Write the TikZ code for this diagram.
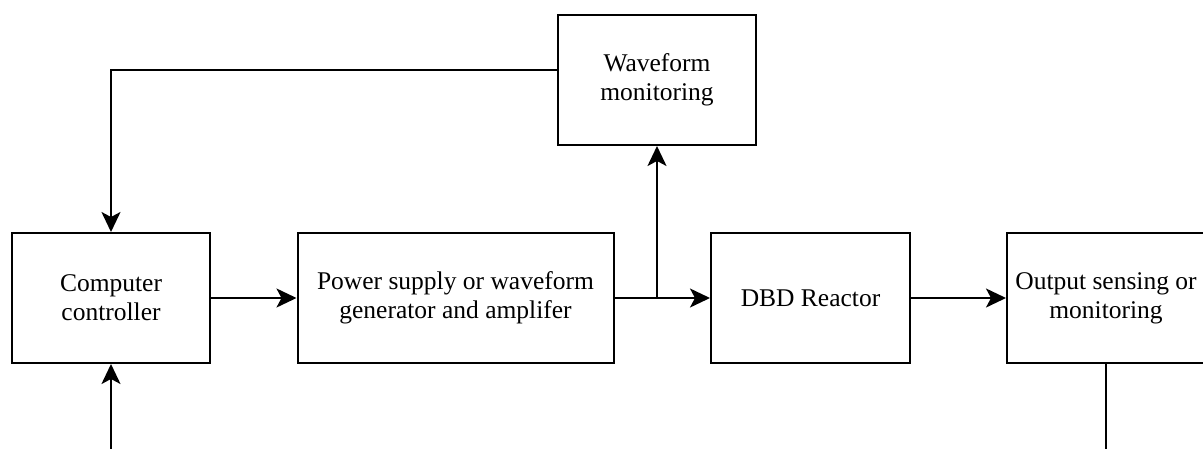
\documentclass[tikz,border=0pt]{standalone}
\usepackage{fontspec}
\setmainfont{Liberation Serif}
\newfontfamily\tnrfont{Liberation Serif}
\usetikzlibrary{arrows.meta}
\begin{document}
\begin{tikzpicture}[x=1pt,y=-1pt,
  blk/.style={draw,line width=2pt,minimum height=130pt,inner sep=2pt,align=center,font=\tnrfont\fontsize{25.5}{29}\selectfont},
  arr/.style={line width=2pt,-{Stealth[length=20pt,width=19pt,inset=5pt]}},
  ln/.style={line width=2pt}]
\useasboundingbox (0,0) rectangle (1203,448);
\clip (0,0) rectangle (1203,448);
\node[blk,minimum width=198pt] (comp) at (111,298) {Computer\\controller};
\node[blk,minimum width=316pt] (pow) at (455.5,298) {Power supply or waveform\\generator and amplifer};
\node[blk,minimum width=199pt] (dbd) at (810.5,298) {DBD Reactor};
\node[blk,minimum width=198pt] (out) at (1106,298) {Output sensing or\\monitoring};
\node[blk,minimum width=198pt] (wave) at (657,80) {Waveform\\monitoring};
\coordinate (br) at (657,298);
\coordinate (wl) at (558,70);
\coordinate (obot) at (1106,452);
\coordinate (cbot) at (111,452);
\draw[arr] (comp) -- (pow);
\draw[arr] (pow) -- (dbd);
\draw[arr] (dbd) -- (out);
\draw[arr] (br) -- (wave.south);
\draw[arr] (wl) -| (comp.north);
\draw[ln] (out.south) -- (obot);
\draw[arr] (cbot) -- (comp.south);
\end{tikzpicture}
\end{document}
